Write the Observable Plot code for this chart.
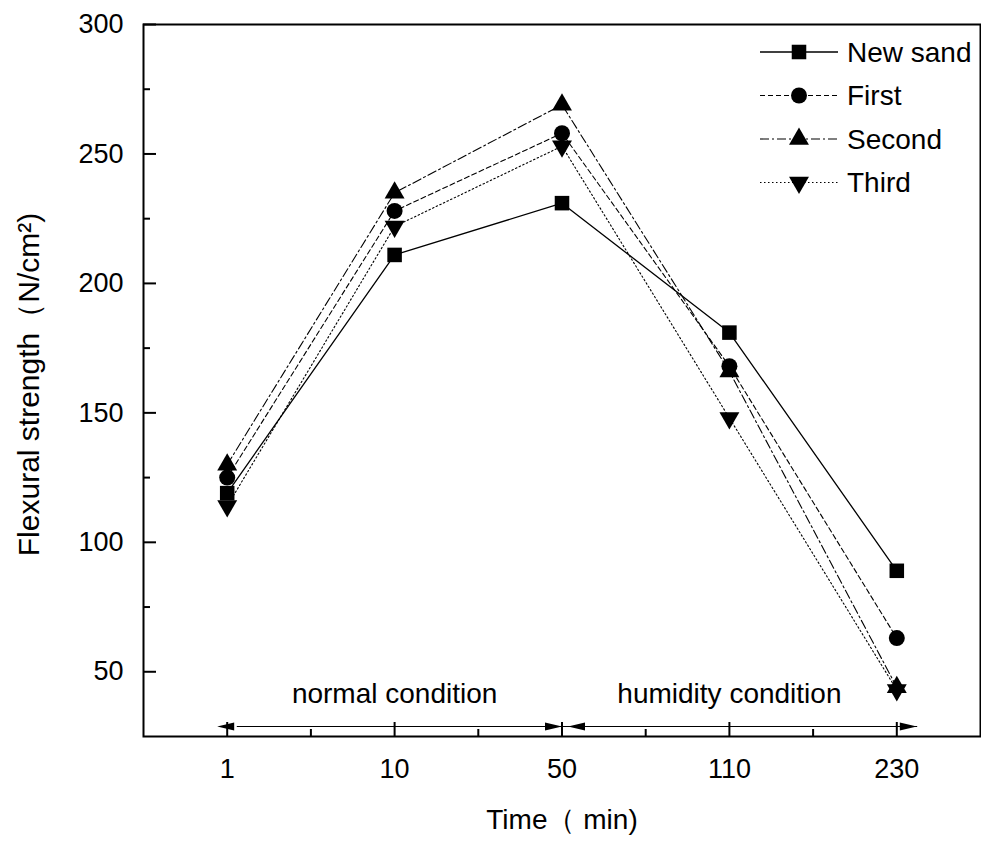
<!DOCTYPE html>
<html><head><meta charset="utf-8">
<script src="https://cdn.jsdelivr.net/npm/d3@7"></script>
<script src="https://cdn.jsdelivr.net/npm/@observablehq/plot@0.6"></script>
<style>
html,body{margin:0;padding:0;background:#fff;}
#chart{position:relative;width:981px;height:841px;}
svg{display:block;}
</style></head><body><div id="chart"></div>
<script>
// ---- data ----
const times = ["1", "10", "50", "110", "230"];
const seriesNames = ["New sand", "First", "Second", "Third"];
const newSand = [119, 211, 231, 181, 89];
const first   = [125, 228, 258, 168, 63];
const second  = [130, 235, 269, 166, 44];
const third   = [114, 222, 253, 148, 43];
const yMajorTicks = [50, 100, 150, 200, 250, 300];
const yMinorTicks = [75, 125, 175, 225, 275];
const conditions = [
  {label: "normal condition", from: 0, to: 2},
  {label: "humidity condition", from: 2, to: 4}
];
const yTitle = "Flexural strength（N/cm²)";
const xTitle = "Time（ min)";

// ---- styles ----
const W = 981, H = 841;
const margin = {top: 24, right: 1, bottom: 105, left: 143};
const innerW = W - margin.left - margin.right;
const innerH = H - margin.top - margin.bottom;
const yDomain = [25, 300];
const lineDash = [null, "5,3", "9,3,2,3", "1.5,2.5"];
const lineWidth = [1.3, 1.1, 1.1, 1.1];
const markerSymbol = ["square", "circle", "triangle", "triangle"];
const markerR = [8.2, 8, 7.4, 7.4];
const markerRotate = [0, 0, 0, 180];
const arrowTipOffsets = [[-10, 0], [6, 20]];
const font = "'Liberation Sans', Arial, Helvetica, sans-serif";

const seriesValues = [newSand, first, second, third];
const rows = seriesNames.flatMap((name, s) =>
  seriesValues[s].map((v, i) => ({series: name, xi: i, time: times[i], value: v})));
const xIdx = d3.range(times.length);
const xMinor = xIdx.slice(0, -1).map(i => i + 0.5);

const triangleHead = {
  draw(context, l, r) {
    context.moveTo(-r, 0);
    context.lineTo(0, -l);
    context.lineTo(r, 0);
    context.closePath();
  }
};

const marks = [
  Plot.frame({stroke: "black", strokeWidth: 2}),
  Plot.ruleY(yMajorTicks, {stroke: "black", strokeWidth: 2, insetRight: innerW - 13}),
  Plot.ruleY(yMinorTicks, {stroke: "black", strokeWidth: 2, insetRight: innerW - 7}),
  Plot.ruleX(xIdx, {stroke: "black", strokeWidth: 2, insetTop: innerH - 14}),
  Plot.ruleX(xMinor, {stroke: "black", strokeWidth: 2, insetTop: innerH - 7}),
  Plot.axisY({ticks: yMajorTicks, tickSize: 0, tickPadding: 20, label: null, fontSize: 27}),
  Plot.axisX({ticks: xIdx, tickFormat: i => times[i], tickSize: 0, tickPadding: 22, label: null, fontSize: 27}),
  Plot.text([xTitle], {text: d => d, frameAnchor: "bottom", dy: 84, lineAnchor: "middle", textAnchor: "middle", fontSize: 28}),
  Plot.text([yTitle], {text: d => d, frameAnchor: "left", rotate: -90, dx: -114, dy: 4, lineAnchor: "middle", textAnchor: "middle", fontSize: 30}),
  Plot.text(conditions, {x: d => (d.from + d.to) / 2, y: () => yDomain[0], dy: -42, text: "label", lineAnchor: "middle", fontSize: 28})
];

conditions.forEach((c, k) => {
  const [o1, o2] = arrowTipOffsets[k];
  marks.push(
    Plot.arrow([c], {x1: "from", x2: "to", y1: () => yDomain[0], y2: () => yDomain[0], dy: -10,
      headLength: 0, insetStart: -o1, insetEnd: -o2, stroke: "black", strokeWidth: 1}),
    Plot.vector([c], {x: "from", y: () => yDomain[0], dx: o1, dy: -10, rotate: -90, anchor: "end",
      length: 17, r: 4, shape: triangleHead, fill: "black", stroke: "none"}),
    Plot.vector([c], {x: "to", y: () => yDomain[0], dx: o2, dy: -10, rotate: 90, anchor: "end",
      length: 17, r: 4, shape: triangleHead, fill: "black", stroke: "none"})
  );
});

seriesNames.forEach((name, s) => {
  marks.push(Plot.line(rows.filter(d => d.series === name), {
    x: "xi", y: "value", stroke: "black", strokeWidth: lineWidth[s],
    strokeDasharray: lineDash[s] || undefined
  }));
});
seriesNames.forEach((name, s) => {
  marks.push(Plot.dot(rows.filter(d => d.series === name), {
    x: "xi", y: "value", symbol: markerSymbol[s], r: markerR[s], rotate: markerRotate[s],
    fill: "black", stroke: "none"
  }));
});

const chart = Plot.plot({
  width: W, height: H,
  marginTop: margin.top, marginRight: margin.right, marginBottom: margin.bottom, marginLeft: margin.left,
  x: {type: "linear", domain: [-0.5, times.length - 0.5]},
  y: {domain: yDomain},
  style: {fontFamily: font, fontSize: "27px", color: "black", background: "white", overflow: "visible"},
  marks
});
document.getElementById("chart").appendChild(chart);

// legend (inside the frame, top-right)
const symbolMap = {square: d3.symbolSquare, circle: d3.symbolCircle, triangle: d3.symbolTriangle};
const lg = d3.select(chart).append("g").attr("font-family", font).attr("font-size", 28)
  .attr("fill", "black").attr("text-anchor", "start");
seriesNames.forEach((name, i) => {
  const cy = margin.top + 28 + i * 43.5;
  const x0 = W - margin.right - 220;
  lg.append("line").attr("x1", x0).attr("x2", x0 + 78).attr("y1", cy).attr("y2", cy)
    .attr("stroke", "black").attr("stroke-width", lineWidth[i])
    .attr("stroke-dasharray", lineDash[i]);
  lg.append("path")
    .attr("d", d3.symbol(symbolMap[markerSymbol[i]], markerR[i] * markerR[i] * Math.PI)())
    .attr("transform", `translate(${x0 + 39},${cy}) rotate(${markerRotate[i]})`);
  lg.append("text").attr("x", x0 + 87).attr("y", cy).attr("dy", "0.35em").text(name);
});
</script>
</body></html>
